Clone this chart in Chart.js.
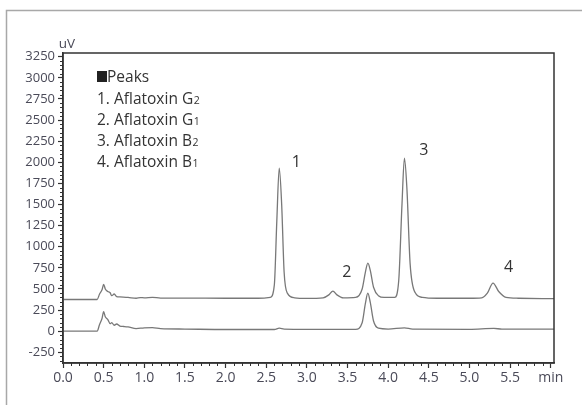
<!DOCTYPE html>
<html>
<head>
<meta charset="utf-8">
<script src="https://cdn.jsdelivr.net/npm/chart.js@4/dist/chart.umd.min.js"></script>
<style>
  html, body { margin: 0; padding: 0; background: #fff; }
  #wrap { width: 582px; height: 405px; }
</style>
</head>
<body>
<div id="wrap"><canvas id="chrom"></canvas></div>
<script>
// retention time (min) and signal (uV)
const upperTime = [0, 0.42, 0.45, 0.48, 0.5, 0.52, 0.55, 0.58, 0.6, 0.63, 0.66, 0.7, 0.8, 0.9, 0.95, 1.0, 1.1, 1.2, 1.5, 2.0, 2.4, 2.55, 2.6, 2.63, 2.66, 2.69, 2.72, 2.76, 2.85, 3.0, 3.2, 3.27, 3.32, 3.37, 3.45, 3.6, 3.68, 3.72, 3.75, 3.78, 3.82, 3.88, 3.95, 4.08, 4.13, 4.17, 4.2, 4.23, 4.27, 4.33, 4.42, 4.6, 5.0, 5.15, 5.22, 5.29, 5.36, 5.45, 5.6, 6.04];
const upperSignal = [375, 375, 440, 490, 555, 500, 470, 455, 420, 440, 410, 405, 400, 390, 398, 395, 400, 392, 392, 390, 390, 400, 550, 1300, 1930, 1500, 700, 450, 395, 388, 395, 430, 475, 430, 395, 400, 500, 700, 805, 720, 520, 420, 400, 400, 600, 1500, 2050, 1700, 800, 460, 400, 390, 390, 395, 450, 570, 470, 400, 390, 385];

const lowerTime = [0, 0.42, 0.45, 0.48, 0.5, 0.52, 0.55, 0.58, 0.6, 0.63, 0.66, 0.7, 0.75, 0.8, 0.9, 1.0, 1.1, 1.2, 1.5, 2.0, 2.6, 2.66, 2.72, 3.0, 3.6, 3.68, 3.72, 3.75, 3.78, 3.82, 3.88, 4.0, 4.2, 4.3, 5.0, 5.3, 5.4, 6.04];
const lowerSignal = [0, 0, 80, 150, 230, 170, 140, 90, 100, 70, 85, 60, 55, 50, 30, 40, 42, 30, 25, 20, 20, 35, 25, 22, 22, 100, 330, 450, 340, 120, 35, 25, 40, 25, 22, 32, 25, 25];

const xTicks = [0, 0.5, 1, 1.5, 2, 2.5, 3, 3.5, 4, 4.5, 5, 5.5, 6];
const xTickLabels = ['0.0', '0.5', '1.0', '1.5', '2.0', '2.5', '3.0', '3.5', '4.0', '4.5', '5.0', '5.5', 'min'];
const yTicks = [-250, 0, 250, 500, 750, 1000, 1250, 1500, 1750, 2000, 2250, 2500, 2750, 3000, 3250];

const peakNames = ['1', '2', '3', '4'];
const peakNameTime = [2.87, 3.49, 4.44, 5.48];
const peakNameSignal = [2000, 700, 2145, 758];

const legendTitle = 'Peaks';
const legendItems = ['1. Aflatoxin G', '2. Aflatoxin G', '3. Aflatoxin B', '4. Aflatoxin B'];
const legendSubs = ['2', '1', '2', '1'];

const FONT = '"Open Sans", "Noto Sans", sans-serif';
const INK = '#333';
const TICK_INK = '#4a4a58';

const toPoints = (xs, ys) => xs.map((x, i) => ({ x: x, y: ys[i] }));

const decorPlugin = {
    id: 'decor',
    beforeDraw(chart) {
        const ctx = chart.ctx;
        ctx.save();
        ctx.strokeStyle = '#a8a8a8';
        ctx.lineWidth = 1.5;
        ctx.beginPath();
        ctx.moveTo(6.5, 405);
        ctx.lineTo(6.5, 10.5);
        ctx.lineTo(582, 10.5);
        ctx.stroke();
        ctx.restore();
    },
    afterDraw(chart) {
        const ctx = chart.ctx;
        const area = chart.chartArea;
        const xs = chart.scales.x;
        const ys = chart.scales.y;
        ctx.save();

        // frame round the plot
        ctx.strokeStyle = INK;
        ctx.lineWidth = 1.5;
        ctx.strokeRect(area.left, area.top, area.right - area.left, area.bottom - area.top);

        // minor ticks
        ctx.lineWidth = 1;
        ctx.beginPath();
        for (let k = -7; k <= 65; k++) {
            if (k % 5 === 0) continue;
            const py = Math.round(ys.getPixelForValue(k * 50)) + 0.5;
            ctx.moveTo(area.left - 3, py);
            ctx.lineTo(area.left, py);
        }
        for (let k = 1; k < 60; k++) {
            if (k % 5 === 0) continue;
            const px = Math.round(xs.getPixelForValue(k / 10)) + 0.5;
            ctx.moveTo(px, area.bottom);
            ctx.lineTo(px, area.bottom + 3);
        }
        ctx.stroke();

        // unit on y axis
        ctx.fillStyle = TICK_INK;
        ctx.font = '13.5px ' + FONT;
        ctx.textAlign = 'center';
        ctx.textBaseline = 'alphabetic';
        ctx.fillText('uV', area.left + 4, area.top - 5);

        // peak numbers
        ctx.fillStyle = INK;
        ctx.font = '16px ' + FONT;
        ctx.textBaseline = 'middle';
        peakNames.forEach((name, i) => {
            ctx.fillText(name, xs.getPixelForValue(peakNameTime[i]), ys.getPixelForValue(peakNameSignal[i]));
        });

        // legend block
        ctx.textAlign = 'left';
        ctx.textBaseline = 'alphabetic';
        ctx.fillStyle = '#222';
        ctx.fillRect(97, 71, 10, 11);
        ctx.fillStyle = INK;
        ctx.font = '15.5px ' + FONT;
        ctx.fillText(legendTitle, 107, 82);
        legendItems.forEach((item, i) => {
            const base = 104 + i * 21;
            ctx.font = '15.5px ' + FONT;
            ctx.fillText(item, 97, base);
            const w = ctx.measureText(item).width;
            ctx.font = '10.5px ' + FONT;
            ctx.fillText(legendSubs[i], 97 + w + 0.5, base);
        });

        ctx.restore();
    }
};

new Chart(document.getElementById('chrom'), {
    type: 'line',
    data: {
        datasets: [
            {
                data: toPoints(upperTime, upperSignal),
                borderColor: '#787878',
                borderWidth: 1.3,
                pointRadius: 0,
                cubicInterpolationMode: 'monotone'
            },
            {
                data: toPoints(lowerTime, lowerSignal),
                borderColor: '#787878',
                borderWidth: 1.3,
                pointRadius: 0,
                cubicInterpolationMode: 'monotone'
            }
        ]
    },
    options: {
        responsive: true,
        maintainAspectRatio: false,
        animation: false,
        events: [],
        layout: { padding: { top: 53, right: 28, left: 0, bottom: 0 } },
        plugins: { legend: { display: false }, tooltip: { enabled: false } },
        scales: {
            x: {
                type: 'linear',
                min: 0,
                max: 6.04,
                afterBuildTicks: (scale) => { scale.ticks = xTicks.map(v => ({ value: v })); },
                afterFit: (scale) => { scale.height = 42; },
                ticks: {
                    autoSkip: false,
                    maxRotation: 0,
                    padding: 2,
                    color: TICK_INK,
                    font: { family: FONT, size: 14 },
                    callback: (v, i) => xTickLabels[i]
                },
                grid: { drawOnChartArea: false, tickLength: 5, tickColor: INK, tickWidth: 1.2 },
                border: { color: INK, width: 1.5 }
            },
            y: {
                min: -377,
                max: 3294,
                afterBuildTicks: (scale) => { scale.ticks = yTicks.map(v => ({ value: v })); },
                afterFit: (scale) => { scale.width = 63; },
                ticks: {
                    autoSkip: false,
                    padding: 3,
                    color: TICK_INK,
                    font: { family: FONT, size: 13 },
                    callback: (v) => String(v)
                },
                grid: { drawOnChartArea: false, tickLength: 5, tickColor: INK, tickWidth: 1.2 },
                border: { color: INK, width: 1.5 }
            }
        }
    },
    plugins: [decorPlugin]
});
</script>
</body>
</html>
